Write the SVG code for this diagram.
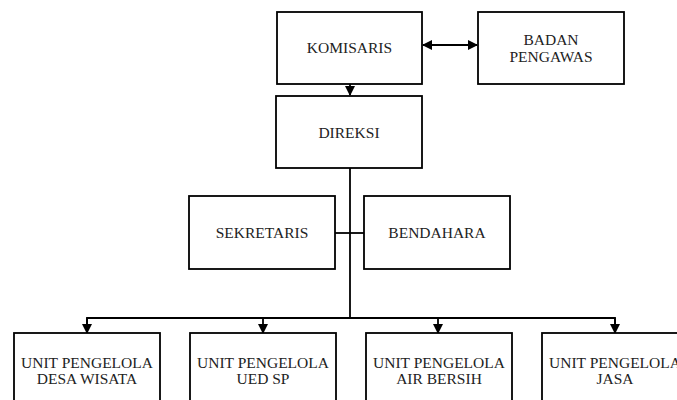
<svg xmlns="http://www.w3.org/2000/svg" width="677" height="400" viewBox="0 0 677 400">
<style>
.box{fill:#fff;stroke:#000;stroke-width:1.8}
.t{font-family:'Liberation Serif','DejaVu Serif',serif;font-size:15.5px;fill:#222;text-anchor:middle}
.c{fill:none;stroke:#000;stroke-width:1.8}
</style>
<defs>
<marker id="ah" markerWidth="10" markerHeight="10" refX="9" refY="5" orient="auto" markerUnits="userSpaceOnUse" viewBox="0 0 10 10">
<path d="M0,0 L10,5 L0,10 Z" fill="#000"/>
</marker>
<marker id="as" markerWidth="10" markerHeight="10" refX="1" refY="5" orient="auto" markerUnits="userSpaceOnUse" viewBox="0 0 10 10">
<path d="M10,0 L0,5 L10,10 Z" fill="#000"/>
</marker>
</defs>
<rect width="677" height="400" fill="#fff"/>
<g id="connectors">
<line class="c" x1="423" y1="45" x2="477" y2="45" marker-start="url(#as)" marker-end="url(#ah)"/>
<line class="c" x1="350" y1="84" x2="350" y2="95" marker-end="url(#ah)"/>
<line class="c" x1="350" y1="168" x2="350" y2="318"/>
<line class="c" x1="335" y1="233" x2="364" y2="233"/>
<polyline class="c" points="87,332 87,318 615,318 615,332"/>
<line class="c" x1="87" y1="318" x2="87" y2="333" marker-end="url(#ah)"/>
<line class="c" x1="263" y1="318" x2="263" y2="333" marker-end="url(#ah)"/>
<line class="c" x1="438" y1="318" x2="438" y2="333" marker-end="url(#ah)"/>
<line class="c" x1="615" y1="318" x2="615" y2="333" marker-end="url(#ah)"/>
</g>
<g id="komisaris"><rect class="box" x="277" y="12" width="145" height="72"/><text class="t" x="349.5" y="53">KOMISARIS</text></g>
<g id="badan-pengawas"><rect class="box" x="478" y="12" width="146" height="72"/><text class="t" x="551" y="45">BADAN</text><text class="t" x="551" y="62">PENGAWAS</text></g>
<g id="direksi"><rect class="box" x="276" y="96" width="146" height="72"/><text class="t" x="349" y="138">DIREKSI</text></g>
<g id="sekretaris"><rect class="box" x="189" y="196" width="146" height="73"/><text class="t" x="262" y="238">SEKRETARIS</text></g>
<g id="bendahara"><rect class="box" x="364" y="196" width="146" height="73"/><text class="t" x="437" y="238">BENDAHARA</text></g>
<g id="unit-desa-wisata"><rect class="box" x="14" y="333" width="146" height="80"/><text class="t" x="87" y="368">UNIT PENGELOLA</text><text class="t" x="87" y="384">DESA WISATA</text></g>
<g id="unit-ued-sp"><rect class="box" x="190" y="333" width="146" height="80"/><text class="t" x="263" y="368">UNIT PENGELOLA</text><text class="t" x="263" y="384">UED SP</text></g>
<g id="unit-air-bersih"><rect class="box" x="366" y="333" width="146" height="80"/><text class="t" x="439" y="368">UNIT PENGELOLA</text><text class="t" x="439" y="384">AIR BERSIH</text></g>
<g id="unit-jasa"><rect class="box" x="542" y="333" width="146" height="80"/><text class="t" x="615" y="368">UNIT PENGELOLA</text><text class="t" x="615" y="384">JASA</text></g>
</svg>
